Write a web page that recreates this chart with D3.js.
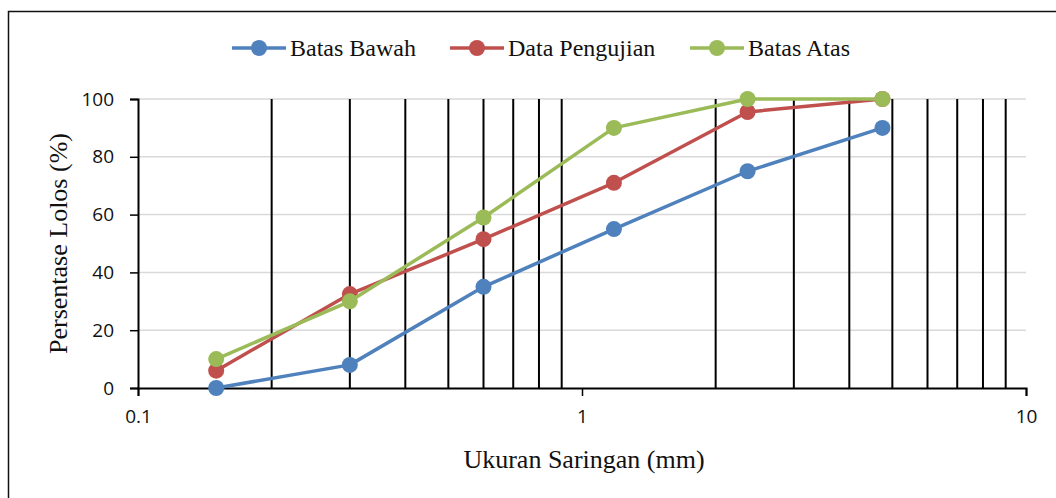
<!DOCTYPE html>
<html>
<head>
<meta charset="utf-8">
<script src="https://cdn.jsdelivr.net/npm/d3@7"></script>
<style>
  body { margin: 0; background: #fff; }
  svg { display: block; }
</style>
</head>
<body>
<div id="chart"></div>
<script>
// Sieve sizes (mm)
var sizes = [0.15, 0.3, 0.6, 1.18, 2.36, 4.75];

// Series values (% passing)
var batasBawah = [0, 8, 35, 55, 75, 90];
var dataPengujian = [6, 32.5, 51.5, 71, 95.5, 100];
var batasAtas = [10, 30, 59, 90, 100, 100];

var seriesNames = ["Batas Bawah", "Data Pengujian", "Batas Atas"];
var seriesColors = ["#4f81bd", "#c0504d", "#9bbb59"];

// Tick labels
var xTicks = [0.1, 1, 10];
var yTicks = [0, 20, 40, 60, 80, 100];

var width = 1056;
var height = 498;

// Plot Area
var plotLeft = 138, plotRight = 1026, plotTop = 99, plotBottom = 388;

var svg = d3.select("#chart")
  .append("svg")
  .attr("width", width)
  .attr("height", height);

// Outer frame
svg.append("rect")
  .attr("x", 8.5)
  .attr("y", 11.5)
  .attr("width", 1060)
  .attr("height", 500)
  .attr("fill", "none")
  .attr("stroke", "#111")
  .attr("stroke-width", 1.5);

var xScale = d3.scaleLog()
  .domain([0.1, 10])
  .range([plotLeft, plotRight]);

var yScale = d3.scaleLinear()
  .domain([0, 100])
  .range([plotBottom, plotTop]);

// Horizontal gridlines
svg.selectAll("line.hgrid")
  .data(yTicks.filter(function(d) { return d > 0; }))
  .enter()
  .append("line")
  .attr("class", "hgrid")
  .attr("x1", plotLeft)
  .attr("x2", plotRight)
  .attr("y1", function(d) { return yScale(d); })
  .attr("y2", function(d) { return yScale(d); })
  .attr("stroke", "#d9d9d9")
  .attr("stroke-width", 1.5);

// Vertical gridlines at minor ticks
var minor = xScale.ticks().filter(function(d) {
  return xTicks.indexOf(d) < 0;
});
svg.selectAll("line.vgrid")
  .data(minor)
  .enter()
  .append("line")
  .attr("class", "vgrid")
  .attr("x1", function(d) { return xScale(d); })
  .attr("x2", function(d) { return xScale(d); })
  .attr("y1", plotTop)
  .attr("y2", plotBottom)
  .attr("stroke", "#000")
  .attr("stroke-width", 2);

// X Axis
var xAxis = d3.axisBottom(xScale)
  .tickValues(xTicks)
  .tickFormat(d3.format("~g"))
  .tickSize(8)
  .tickPadding(14);

var gx = svg.append("g")
  .attr("transform", "translate(0," + plotBottom + ")")
  .call(xAxis);
gx.select(".domain").attr("stroke", "#000").attr("stroke-width", 2);
gx.selectAll(".tick line").attr("stroke", "#000").attr("stroke-width", 1.5);
gx.selectAll("text")
  .attr("font-family", "Open Sans, sans-serif")
  .attr("font-size", "19px")
  .attr("fill", "#111");

// Y Axis
var yAxis = d3.axisLeft(yScale)
  .tickValues(yTicks)
  .tickSize(8)
  .tickPadding(16);

var gy = svg.append("g")
  .attr("transform", "translate(" + plotLeft + ",0)")
  .call(yAxis);
gy.select(".domain").attr("stroke", "#000").attr("stroke-width", 2);
gy.selectAll(".tick line").attr("stroke", "#000").attr("stroke-width", 1.5);
gy.selectAll("text")
  .attr("font-family", "Open Sans, sans-serif")
  .attr("font-size", "19px")
  .attr("fill", "#111");

// Series
var allSeries = [batasBawah, dataPengujian, batasAtas];

var line = d3.line()
  .x(function(d, i) { return xScale(sizes[i]); })
  .y(function(d) { return yScale(d); });

allSeries.forEach(function(values, s) {
  svg.append("path")
    .datum(values)
    .attr("d", line)
    .attr("fill", "none")
    .attr("stroke", seriesColors[s])
    .attr("stroke-width", 3.5)
    .attr("stroke-linejoin", "round");

  svg.selectAll("circle.s" + s)
    .data(values)
    .enter()
    .append("circle")
    .attr("class", "s" + s)
    .attr("cx", function(d, i) { return xScale(sizes[i]); })
    .attr("cy", function(d) { return yScale(d); })
    .attr("r", 8)
    .attr("fill", seriesColors[s]);
});

// Legend
var legendX = [232, 450, 690];
seriesNames.forEach(function(name, s) {
  var g = svg.append("g")
    .attr("transform", "translate(" + legendX[s] + ",48)");
  g.append("line")
    .attr("x1", 0).attr("x2", 54)
    .attr("y1", 0).attr("y2", 0)
    .attr("stroke", seriesColors[s])
    .attr("stroke-width", 3.5);
  g.append("circle")
    .attr("cx", 27).attr("cy", 0).attr("r", 8)
    .attr("fill", seriesColors[s]);
  g.append("text")
    .attr("x", 58)
    .attr("y", 8)
    .text(name)
    .attr("font-family", "Liberation Serif, Times New Roman, serif")
    .attr("font-size", "24px")
    .attr("fill", "#111");
});

// X Axis Label
svg.append("text")
  .attr("x", (plotLeft + plotRight) / 2 + 2)
  .attr("y", 468)
  .attr("text-anchor", "middle")
  .text("Ukuran Saringan (mm)")
  .attr("font-family", "Liberation Serif, Times New Roman, serif")
  .attr("font-size", "26px")
  .attr("fill", "#111");

// Y Axis Label
svg.append("text")
  .attr("transform", "translate(67," + ((plotTop + plotBottom) / 2) + ") rotate(-90)")
  .attr("text-anchor", "middle")
  .text("Persentase Lolos (%)")
  .attr("font-family", "Liberation Serif, Times New Roman, serif")
  .attr("font-size", "26px")
  .attr("fill", "#111");
</script>
</body>
</html>
